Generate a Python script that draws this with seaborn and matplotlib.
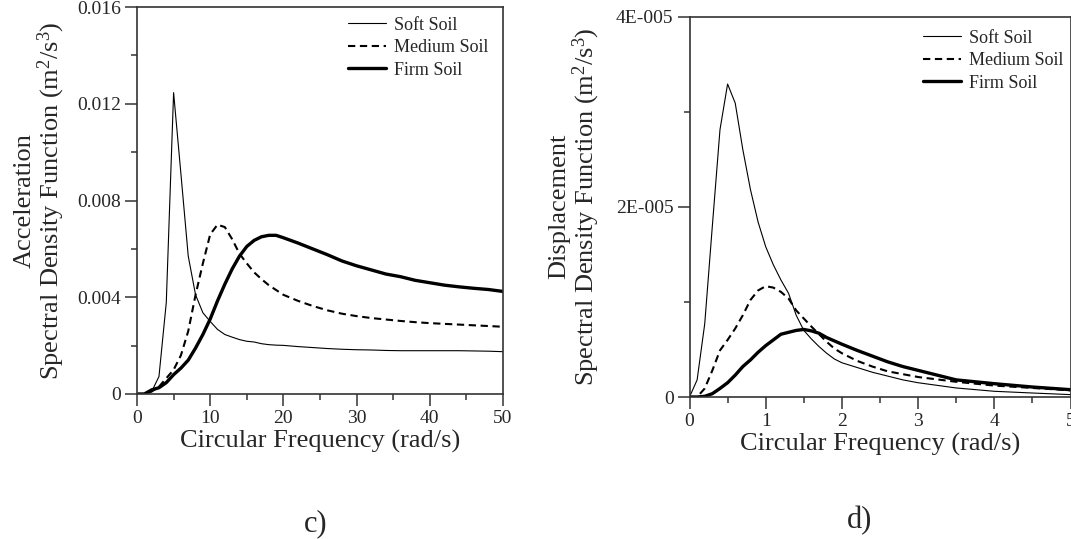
import numpy as np
import pandas as pd
import matplotlib
matplotlib.use("Agg")
import matplotlib.pyplot as plt
import seaborn as sns
from matplotlib.ticker import MultipleLocator

# ---------------- data ----------------
series_names = ["Soft Soil", "Medium Soil", "Firm Soil"]

# (c) Acceleration spectral density
acc_freq = [0, 1, 2, 3, 4, 5, 6, 7, 8, 9, 10, 11, 12, 13, 14, 15, 16, 17, 18, 19, 20,
            22, 24, 26, 28, 30, 32, 34, 36, 38, 40, 42, 44, 46, 48, 50]
acc_soft = [0, 0, 0.0001, 0.00072, 0.00378, 0.01246, 0.0091, 0.0057, 0.0041, 0.00336, 0.0030,
            0.00267, 0.00246, 0.00235, 0.00225, 0.00218, 0.00215, 0.00208, 0.00204, 0.00202, 0.00201,
            0.00196, 0.00192, 0.00188, 0.00185, 0.00183, 0.00182, 0.00180, 0.00179, 0.00179, 0.00179,
            0.00179, 0.00179, 0.00178, 0.00177, 0.00175]
acc_medium = [0, 0, 0.0001, 0.0003, 0.00065, 0.0010, 0.0016, 0.0026, 0.0041, 0.0054, 0.0066,
              0.0070, 0.0069, 0.0064, 0.0058, 0.0054, 0.00503, 0.00475, 0.0045, 0.0043, 0.0041,
              0.00385, 0.00364, 0.00346, 0.00332, 0.00322, 0.00314, 0.00308, 0.00302, 0.00297, 0.00293,
              0.0029, 0.00287, 0.00284, 0.00281, 0.00278]
acc_firm = [0, 0, 0.00017, 0.00026, 0.00047, 0.0008, 0.00107, 0.0014, 0.0019, 0.00246, 0.0031,
            0.00385, 0.00454, 0.00517, 0.0057, 0.0061, 0.00635, 0.0065, 0.00656, 0.00656, 0.00646,
            0.00624, 0.0060, 0.00576, 0.0055, 0.0053, 0.00513, 0.00496, 0.00485, 0.0047, 0.0046,
            0.0045, 0.00443, 0.00437, 0.00432, 0.00424]

# (d) Displacement spectral density
dis_freq = [0, 0.1, 0.2, 0.3, 0.4, 0.5, 0.6, 0.7, 0.8, 0.9, 1.0, 1.1, 1.2, 1.3, 1.4, 1.5, 1.6,
            1.7, 1.8, 1.9, 2.0, 2.2, 2.4, 2.6, 2.8, 3.0, 3.5, 4.0, 4.5, 5.0]
dis_soft = [0, 0.18e-5, 0.77e-5, 1.8e-5, 2.81e-5, 3.29e-5, 3.09e-5, 2.6e-5, 2.18e-5, 1.84e-5,
            1.58e-5, 1.39e-5, 1.23e-5, 1.09e-5, 0.86e-5, 0.70e-5, 0.61e-5, 0.53e-5, 0.46e-5,
            0.40e-5, 0.36e-5, 0.31e-5, 0.26e-5, 0.22e-5, 0.18e-5, 0.15e-5, 0.095e-5, 0.06e-5,
            0.042e-5, 0.025e-5]
dis_medium = [0, 0, 0.09e-5, 0.28e-5, 0.49e-5, 0.60e-5, 0.72e-5, 0.86e-5, 1.02e-5, 1.12e-5,
              1.165e-5, 1.15e-5, 1.105e-5, 1.035e-5, 0.91e-5, 0.825e-5, 0.74e-5, 0.66e-5, 0.58e-5,
              0.51e-5, 0.46e-5, 0.38e-5, 0.32e-5, 0.27e-5, 0.24e-5, 0.21e-5, 0.16e-5, 0.12e-5,
              0.095e-5, 0.07e-5]
dis_firm = [0, 0, 0.007e-5, 0.035e-5, 0.09e-5, 0.15e-5, 0.23e-5, 0.32e-5, 0.39e-5, 0.47e-5,
            0.54e-5, 0.60e-5, 0.66e-5, 0.68e-5, 0.70e-5, 0.71e-5, 0.695e-5, 0.67e-5, 0.625e-5,
            0.59e-5, 0.555e-5, 0.49e-5, 0.43e-5, 0.37e-5, 0.32e-5, 0.28e-5, 0.18e-5, 0.14e-5,
            0.105e-5, 0.077e-5]

acc_yticks = [0, 0.004, 0.008, 0.012, 0.016]
acc_yticklabels = ["0", "0.004", "0.008", "0.012", "0.016"]
dis_yticks = [0, 2e-5, 4e-5]
dis_yticklabels = ["0", "2E-005", "4E-005"]

# ---------------- style ----------------
sns.set_theme(style="white")
plt.rcParams["font.family"] = ["Liberation Serif", "DejaVu Serif"]
plt.rcParams["mathtext.fontset"] = "custom"
plt.rcParams["mathtext.rm"] = "Liberation Serif"
plt.rcParams["mathtext.default"] = "regular"

W, H = 1071, 539
fig = plt.figure(figsize=(W / 100, H / 100), dpi=100)

def px_axes(x0, y0, x1, y1):
    return fig.add_axes([x0 / W, 1 - y1 / H, (x1 - x0) / W, (y1 - y0) / H])

ax1 = px_axes(137, 7, 503, 394)
ax2 = px_axes(689.5, 16.5, 1070.5, 397)

styles = {
    "Soft Soil": dict(lw=0.8, ls="-"),
    "Medium Soil": dict(lw=1.5, ls=(0, (3.5, 2.2))),
    "Firm Soil": dict(lw=2.4, ls="-"),
}

def draw(ax, freq, ys):
    for name, y in zip(series_names, ys):
        df = pd.DataFrame({"f": freq, "v": y})
        sns.lineplot(data=df, x="f", y="v", ax=ax, color="black", label=name,
                     linewidth=styles[name]["lw"], linestyle=styles[name]["ls"])

draw(ax1, acc_freq, [acc_soft, acc_medium, acc_firm])
draw(ax2, dis_freq, [dis_soft, dis_medium, dis_firm])

ax1.set_xlim(0, 50)
ax1.set_ylim(0, 0.016)
ax1.xaxis.set_major_locator(MultipleLocator(10))
ax1.xaxis.set_minor_locator(MultipleLocator(5))
ax1.set_yticks(acc_yticks)
ax1.set_yticklabels(acc_yticklabels)
ax1.yaxis.set_minor_locator(MultipleLocator(0.002))

ax2.set_xlim(0, 5)
ax2.set_ylim(0, 4e-5)
ax2.xaxis.set_major_locator(MultipleLocator(1))
ax2.xaxis.set_minor_locator(MultipleLocator(0.5))
ax2.set_yticks(dis_yticks)
ax2.set_yticklabels(dis_yticklabels)
ax2.yaxis.set_minor_locator(MultipleLocator(1e-5))

for ax in (ax1, ax2):
    ax.set_xlabel("Circular Frequency (rad/s)", fontsize=19, labelpad=2)
    for s in ax.spines.values():
        s.set_color("#333333")
        s.set_linewidth(1.2)
    ax.tick_params(which="major", direction="out", length=8.5, width=1.1, color="#333333",
                   labelsize=14, left=True, bottom=True, pad=3)
    ax.tick_params(which="minor", direction="out", length=4, width=1.1, color="#333333",
                   left=True, bottom=True)

ax1.set_ylabel("Acceleration\nSpectral Density Function (m$^{2}$/s$^{3}$)", fontsize=19,
               linespacing=1.0)
ax1.yaxis.set_label_coords(-0.19, 0.5)
ax2.set_ylabel("Displacement\nSpectral Density Function (m$^{2}$/s$^{3}$)", fontsize=19,
               linespacing=1.0)
ax2.yaxis.set_label_coords(-0.23, 0.5)

ax1.legend(loc="upper left", bbox_to_anchor=(0.577, 0.975), frameon=False, fontsize=13,
           borderpad=0, borderaxespad=0, handlelength=2.1, handletextpad=0.45, labelspacing=0.3)
ax2.legend(loc="upper left", bbox_to_anchor=(0.613, 0.965), frameon=False, fontsize=13,
           borderpad=0, borderaxespad=0, handlelength=2.1, handletextpad=0.45, labelspacing=0.3)

fig.text(316 / W, 1 - 524 / H, "c)", fontsize=22, ha="center", va="center")
fig.text(860 / W, 1 - 521 / H, "d)", fontsize=22, ha="center", va="center")

fig.savefig("out.png", dpi=100)
